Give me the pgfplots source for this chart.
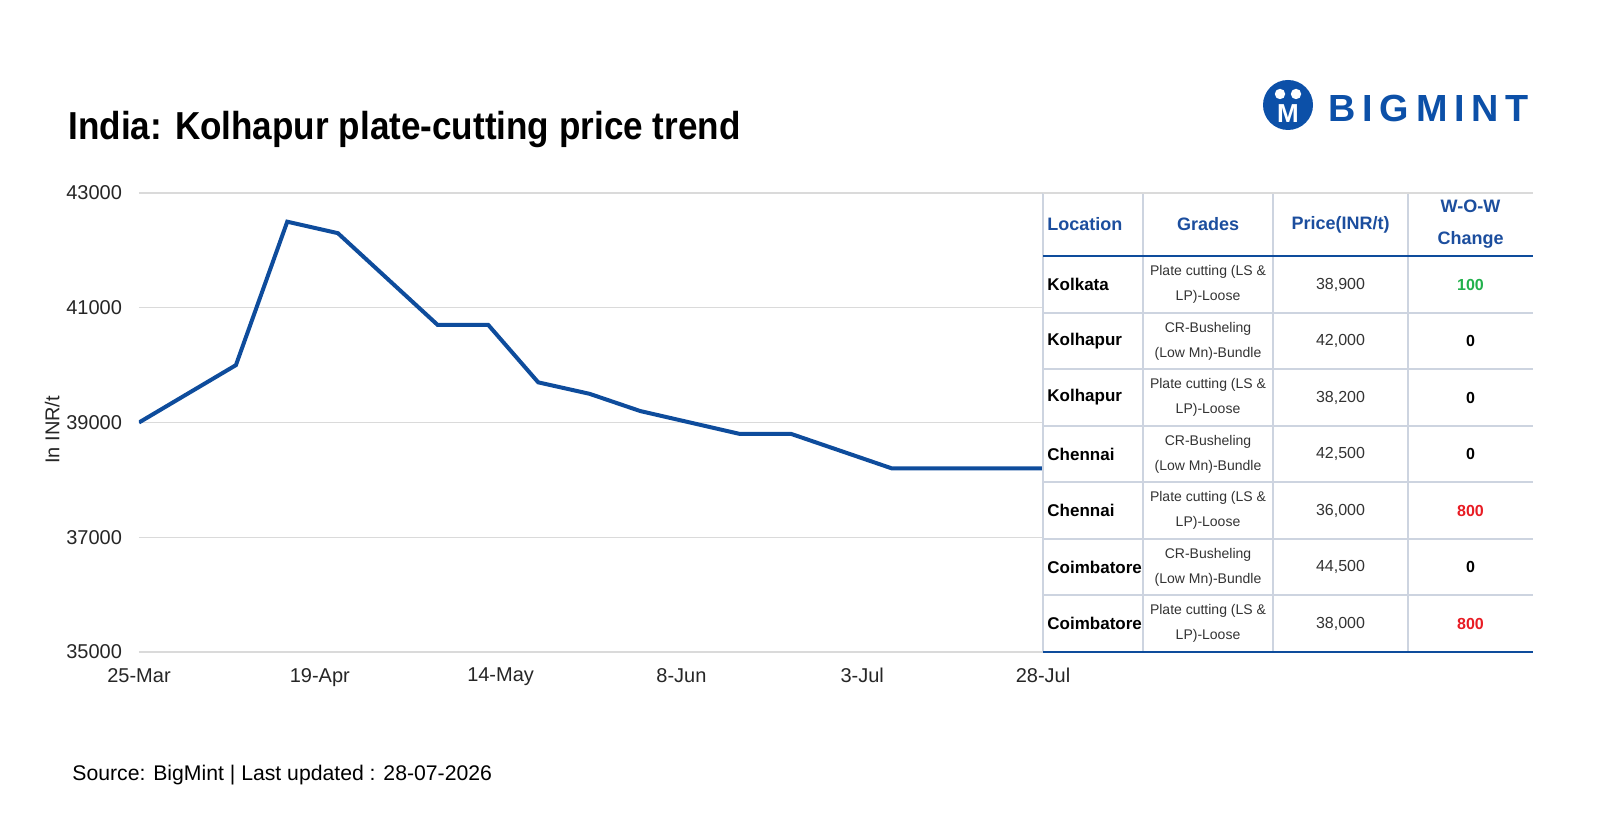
\documentclass[border=0pt]{standalone}
\usepackage{fontspec}
\setmainfont{Liberation Sans}
\usepackage{pgfplots}
\pgfplotsset{compat=1.18}
\usepackage{graphicx}
\definecolor{lineblue}{RGB}{14,76,156}
\definecolor{hdrblue}{RGB}{28,78,158}
\definecolor{logoblue}{RGB}{12,80,168}
\definecolor{gridgray}{RGB}{218,218,218}
\definecolor{tblgray}{RGB}{205,212,224}
\definecolor{upgreen}{RGB}{34,177,76}
\definecolor{dnred}{RGB}{232,28,36}
\begin{document}
\begin{tikzpicture}
\fill[white] (0,0) rectangle (800pt,418pt);
\path[use as bounding box] (0,0) rectangle (800pt,418pt);
\begin{axis}[
  at={(69.5pt,92pt)}, anchor=south west,
  scale only axis, width=452pt, height=229.5pt,
  xmin=0, xmax=125, ymin=35000, ymax=43000,
  xtick={0,25,50,75,100,125},
  xticklabels={25-Mar,19-Apr,14-May,8-Jun,3-Jul,28-Jul},
  ytick={35000,37000,39000,41000,43000},
  scaled y ticks=false,
  ymajorgrids, grid style={gridgray, line width=0.6pt},
  axis line style={draw=none},
  major tick length=0pt,
  tick label style={font=\fontsize{10}{12}\selectfont, text=black!85},
  yticklabel style={xshift=-5pt},
  xticklabel style={yshift=-4.5pt},
  /pgf/number format/1000 sep={},
  /pgf/number format/assume math mode=true,
  ylabel={In INR/t},
  ylabel style={at={(axis description cs:-0.096,0.484)}, anchor=center, font=\fontsize{10}{12}\selectfont, text=black!85},
]
\addplot[lineblue, line width=2pt] coordinates {
(0,39000) (13.4,40000) (20.5,42500) (27.5,42300) (41.3,40700) (48.3,40700)
(55.2,39700) (62.3,39500) (69.3,39200) (83.1,38800) (90.2,38800) (104.1,38200) (125,38200)};
\end{axis}
% title
\node[anchor=base west, inner sep=0] at (34pt,348pt) {\scalebox{0.9}[1]{\fontsize{19.5}{22}\selectfont\bfseries India: Kolhapur plate-cutting price trend}};
% source
\node[anchor=base west, inner sep=0] at (36pt,28pt) {\fontsize{10.6}{12}\selectfont Source: BigMint | Last updated : 28-07-2026};
% logo
\fill[logoblue] (644pt,365.5pt) circle (12.5pt);
\fill[white] (640pt,371pt) circle (2.6pt);
\fill[white] (648pt,371pt) circle (2.6pt);
\node[white, inner sep=0] at (644pt,361pt) {\fontsize{13}{13}\selectfont\bfseries M};
\node[anchor=base west, inner sep=0, text=logoblue] at (664pt,357pt) {\fontsize{18.9}{20}\selectfont\bfseries B\kern3.4pt I\kern3.4pt G\kern3.4pt M\kern3.4pt I\kern3.4pt N\kern3.4pt T};
% table
\begin{scope}[shift={(0,418pt)}, x=0.5pt, y=-0.5pt]
\fill[white] (1043,193) rectangle (1540,652);
\foreach \yy in {313,369,426,482,539,595} \draw[tblgray, line width=0.7pt] (1043,\yy) -- (1533,\yy);
\foreach \xx in {1043,1143,1273,1408} \draw[tblgray, line width=0.7pt] (\xx,193) -- (\xx,652);
\draw[gridgray, line width=0.6pt] (1043,193) -- (1533,193);
\draw[lineblue, line width=1.1pt] (1043,256) -- (1533,256);
\draw[lineblue, line width=1.1pt] (1043,652) -- (1533,652);
% header
\begin{scope}[every node/.style={inner sep=0, text=hdrblue, font=\fontsize{9}{16}\selectfont\bfseries, align=center}]
\node[anchor=west] at (1047,224.5) {Location};
\node at (1208,224.5) {Grades};
\node at (1340.5,224.5) {Price(INR/t)};
\node at (1470.5,224.5) {W-O-W\\Change};
\end{scope}
% body
\begin{scope}[every node/.style={inner sep=0, align=center}]
\foreach \yc/\loc/\ga/\gb/\pr/\ch/\cc in {
 284.5/Kolkata/Plate cutting (LS \&/LP)-Loose/38{,}900/100/upgreen,
 341/Kolhapur/CR-Busheling/(Low Mn)-Bundle/42{,}000/0/black,
 397.5/Kolhapur/Plate cutting (LS \&/LP)-Loose/38{,}200/0/black,
 454/Chennai/CR-Busheling/(Low Mn)-Bundle/42{,}500/0/black,
 510.5/Chennai/Plate cutting (LS \&/LP)-Loose/36{,}000/800/dnred,
 567/Coimbatore/CR-Busheling/(Low Mn)-Bundle/44{,}500/0/black,
 623.5/Coimbatore/Plate cutting (LS \&/LP)-Loose/38{,}000/800/dnred}{
  \node[anchor=west, font=\fontsize{8.5}{10}\selectfont\bfseries] at (1047,\yc) {\loc};
  \node[font=\fontsize{7}{12.5}\selectfont, text=black!80] at (1208,\yc) {\ga\\\gb};
  \node[font=\fontsize{8}{10}\selectfont, text=black!80] at (1340.5,\yc) {\pr};
  \node[font=\fontsize{8}{10}\selectfont\bfseries, text=\cc] at (1470.5,\yc) {\ch};
}
\end{scope}
\end{scope}
\end{tikzpicture}
\end{document}
